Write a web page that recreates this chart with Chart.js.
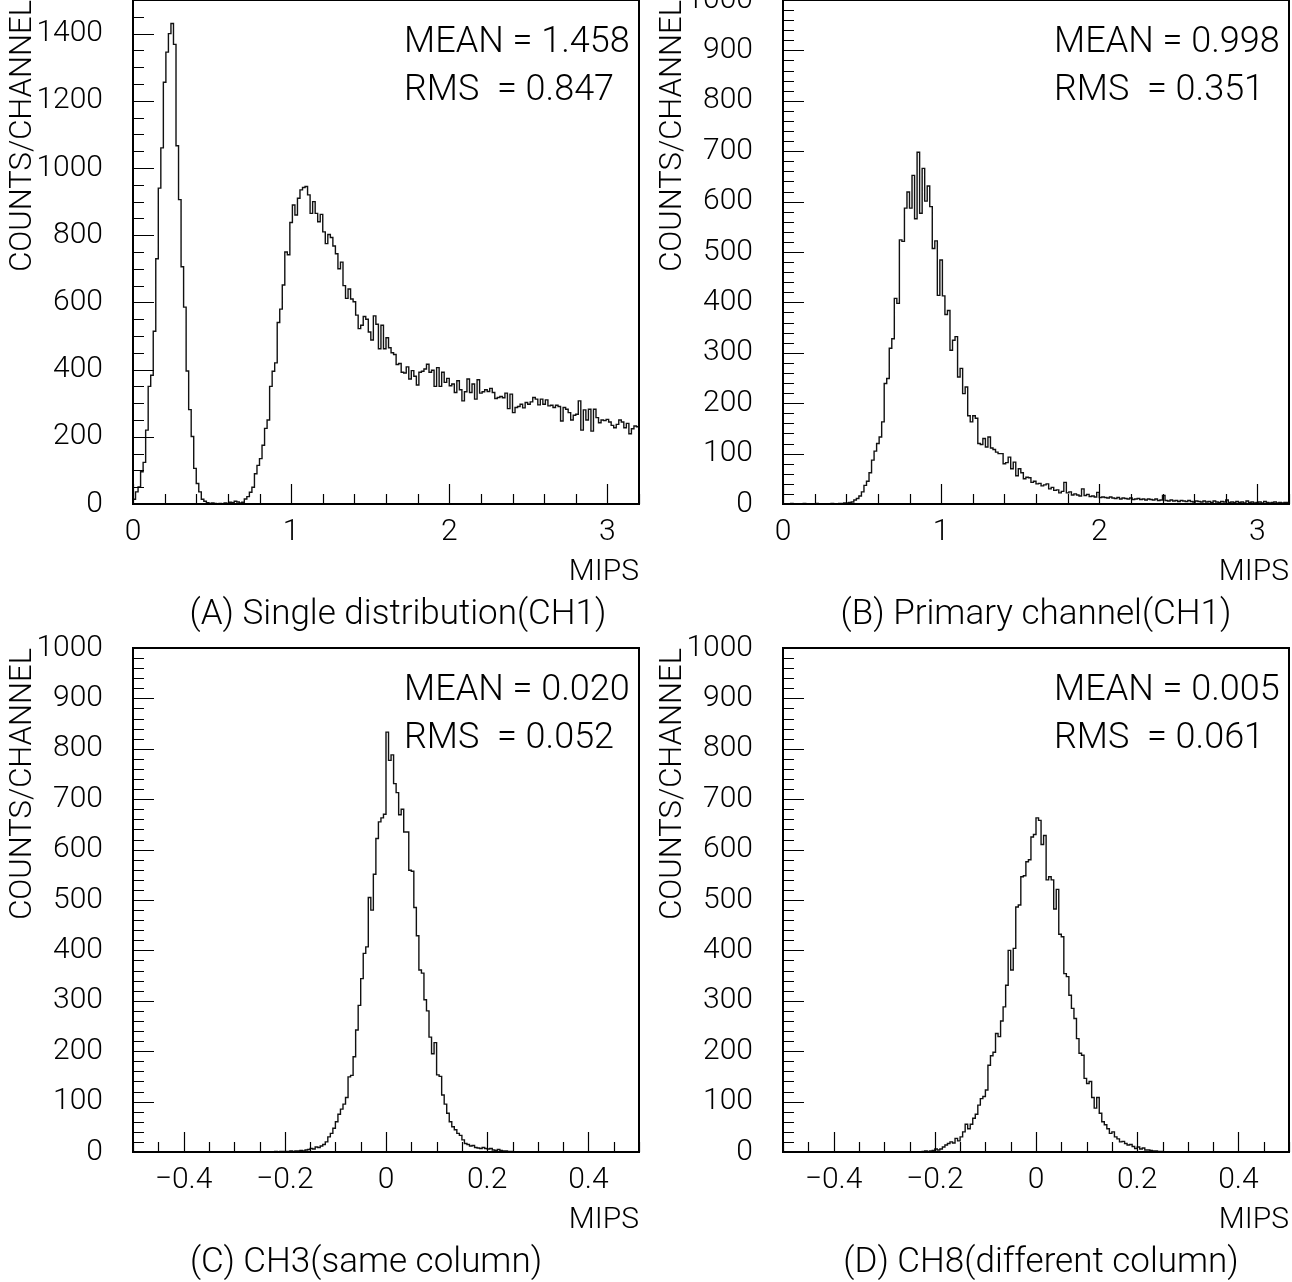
<!DOCTYPE html>
<html>
<head>
<meta charset="utf-8">
<script src="https://cdn.jsdelivr.net/npm/chart.js"></script>
<style>
  body{margin:0;width:1292px;height:1282px;overflow:hidden;background:#fff;position:relative}
  canvas{position:absolute}
</style>
</head>
<body>
<canvas id="histA" width="651" height="686" style="left:0;top:-50px"></canvas>
<canvas id="histB" width="651" height="686" style="left:650px;top:-50px"></canvas>
<canvas id="histC" width="651" height="686" style="left:0;top:598px"></canvas>
<canvas id="histD" width="651" height="686" style="left:650px;top:598px"></canvas>
<script>
/* counts per channel, 200 bins each */
const countsA=[
14,36,51,96,124,220,350,383,514,730,
940,1060,1255,1345,1400,1430,1368,1066,906,706,
586,396,281,201,106,61,36,14,8,4,
2,3,2,1,2,1,3,2,5,4,
8,6,3,5,15,22,35,50,90,115,
135,175,225,250,350,395,420,540,580,652,
750,742,838,890,860,910,935,942,945,920,
865,900,865,840,862,810,775,802,793,768,
745,700,720,650,612,640,610,602,562,522,
532,558,550,512,488,560,535,462,532,462,
495,465,450,445,415,418,392,390,408,372,
397,380,354,392,395,402,416,392,398,350,
406,350,392,362,374,352,357,332,367,340,
307,334,372,332,357,312,370,330,334,340,
335,344,332,314,317,320,316,330,284,327,
272,287,290,297,286,302,297,304,317,312,
295,312,297,310,292,294,287,294,290,247,
287,282,272,250,264,267,307,220,280,250,
282,217,282,257,242,250,248,252,244,234,
227,237,250,244,227,240,209,224,232,230]

const countsB=[
0,0,0,1,0,0,0,0,1,0,
0,0,0,1,0,0,0,0,0,1,
0,0,1,1,2,2,3,4,8,11,
16,24,37,45,62,87,105,120,133,163,
239,249,309,328,408,398,524,521,587,619,
587,652,566,698,577,666,601,631,590,507,
522,414,484,413,376,384,305,325,332,252,
269,219,232,175,163,175,170,120,118,130,
113,133,111,108,103,100,100,80,82,93,
70,83,56,70,62,50,53,52,43,45,
40,41,36,38,40,30,33,27,28,22,
25,43,22,24,18,20,18,16,30,17,
19,15,16,14,23,13,14,13,12,14,
12,11,13,10,12,11,10,12,9,10,
11,9,10,8,10,9,8,10,7,8,
17,7,6,8,6,7,5,7,6,5,
7,5,4,6,5,4,6,4,5,3,
6,4,3,5,4,8,3,4,3,5,
3,4,2,6,3,4,2,3,4,2,
5,3,2,3,4,2,3,2,3,3]

const countsC=[
0,0,0,0,0,0,0,0,0,0,
0,0,0,0,0,0,0,0,0,0,
0,0,0,0,0,0,0,0,0,0,
0,0,0,0,0,0,0,0,0,0,
0,0,0,0,0,0,0,0,0,0,
0,0,0,0,0,0,1,0,1,1,
1,1,2,1,2,2,3,2,4,5,
7,6,10,9,12,15,20,30,37,47,
60,75,85,95,108,149,152,189,242,291,
344,394,407,505,480,551,622,655,663,670,
833,777,788,731,713,669,680,635,635,559,
557,485,429,361,355,302,280,228,195,217,
153,150,113,95,77,60,50,44,37,33,
24,17,15,12,13,9,8,7,9,7,
6,7,4,3,5,3,2,2,1,1,
0,0,0,0,0,0,0,0,0,0,
0,0,0,0,0,0,0,0,0,0,
0,0,0,0,0,0,0,0,0,0,
0,0,0,0,0,0,0,0,0,0,
0,0,0,0,0,0,0,0,0,0]

const countsD=[
0,0,0,0,0,0,0,0,0,0,
0,0,0,0,0,0,0,0,0,0,
0,0,0,0,0,0,0,0,0,0,
0,0,0,0,0,0,0,0,0,0,
0,0,0,0,0,0,0,0,0,0,
0,0,0,0,0,1,2,1,2,3,
6,4,6,10,14,17,20,18,27,22,
30,40,55,46,55,67,75,93,106,110,
123,172,191,198,235,229,260,288,331,400,
361,404,486,490,546,548,576,580,625,630,
663,658,610,628,540,546,540,482,521,432,
427,354,348,311,285,265,225,196,192,146,
136,140,108,87,108,77,60,54,46,37,
40,30,26,20,21,17,14,15,11,7,
10,6,8,4,4,3,2,2,1,1,
0,0,0,0,0,0,0,0,0,0,
0,0,0,0,0,0,0,0,0,0,
0,0,0,0,0,0,0,0,0,0,
0,0,0,0,0,0,0,0,0,0,
0,0,0,0,0,0,0,0,0,0]

const captions=['(A) Single distribution(CH1)','(B) Primary channel(CH1)','(C) CH3(same column)','(D) CH8(different column)']
const means=['1.458','0.998','0.020','0.005']
const rmsValues=['0.847','0.351','0.052','0.061']

const fuente='Roboto'
Chart.defaults.font.family=fuente
Chart.defaults.font.weight=300
Chart.defaults.color='#000'

/* bin centres plus both outer edges so the steps close on the frame */
function puntos(min,max,counts){
    const w=(max-min)/counts.length
    const arr=[{x:min,y:counts[0]}]
    counts.forEach((c,i)=>arr.push({x:min+(i+0.5)*w,y:c}))
    arr.push({x:max,y:counts[counts.length-1]})
    return arr
}

function multiplo(v,m){
    const q=v/m
    return Math.abs(q-Math.round(q))<1e-6
}

function etiqueta(v){
    if(Math.abs(v)<1e-9) return '0'
    const s=String(Math.round(v*1000)/1000)
    return s.replace('-','\u2212')
}

/* frame, inward ticks and the text boxes */
const marco={
    id:'marco',
    afterDraw(chart,args,opts){
        const ctx=chart.ctx
        const a=chart.chartArea
        const sx=chart.scales.x
        const sy=chart.scales.y
        ctx.save()
        ctx.strokeStyle='#000'
        ctx.lineWidth=1.2
        ctx.beginPath()
        sx.ticks.forEach(t=>{
            const p=Math.round(sx.getPixelForValue(t.value))+0.5
            const l=t.label!==''?20:10
            ctx.moveTo(p,a.bottom)
            ctx.lineTo(p,a.bottom-l)
        })
        sy.ticks.forEach(t=>{
            const p=Math.round(sy.getPixelForValue(t.value))+0.5
            const l=t.label!==''?21:11
            ctx.moveTo(a.left,p)
            ctx.lineTo(a.left+l,p)
        })
        ctx.stroke()
        ctx.lineWidth=2
        ctx.strokeRect(a.left,a.top,a.right-a.left,a.bottom-a.top)

        ctx.fillStyle='#000'
        ctx.textBaseline='middle'
        ctx.textAlign='left'
        ctx.font='300 36px '+fuente
        ctx.fillText('MEAN = '+opts.mean,a.left+271,a.top+43)
        ctx.fillText('RMS  = '+opts.rms,a.left+271,a.top+91)
        ctx.textAlign='center'
        ctx.font='300 35px '+fuente
        ctx.fillText(opts.caption,a.left+opts.captionX,a.bottom+111)
        ctx.restore()
    }
}

function grafico(id,counts,p){
    const ctx=document.getElementById(id)
    new Chart(ctx,{
        type:'line',
        data:{
            datasets:[{
                data:puntos(p.xmin,p.xmax,counts),
                stepped:'middle',
                borderColor:'#111',
                borderWidth:1.4,
                pointRadius:0,
                fill:false
            }]
        },
        options:{
            responsive:false,
            animation:false,
            events:[],
            layout:{padding:{left:0,right:12,top:50,bottom:40}},
            plugins:{
                legend:{display:false},
                tooltip:{enabled:false},
                marco:{mean:p.mean,rms:p.rms,caption:p.caption,captionX:p.captionX}
            },
            scales:{
                x:{
                    type:'linear',
                    min:p.xmin,
                    max:p.xmax,
                    grid:{display:false,drawTicks:false},
                    border:{display:false},
                    ticks:{
                        stepSize:p.xMinor,
                        autoSkip:false,
                        maxRotation:0,
                        padding:10,
                        font:{size:30},
                        callback:v=>multiplo(v,p.xMajor)?etiqueta(v):''
                    },
                    title:{display:true,text:'MIPS',align:'end',font:{size:30},padding:{top:0,bottom:6}},
                    afterFit:s=>{s.height=92}
                },
                y:{
                    min:0,
                    max:p.ymax,
                    grid:{display:false,drawTicks:false},
                    border:{display:false},
                    ticks:{
                        stepSize:p.yMinor,
                        autoSkip:false,
                        padding:30,
                        font:{size:30},
                        callback:v=>multiplo(v,p.yMajor)?String(Math.round(v)):''
                    },
                    title:{display:true,text:'COUNTS/CHANNEL',align:'end',font:{size:31},padding:{top:5,bottom:0}},
                    afterFit:s=>{s.width=133}
                }
            }
        },
        plugins:[marco]
    })
}

grafico('histA',countsA,{xmin:0,xmax:3.2,xMinor:0.2,xMajor:1,ymax:1500,yMinor:50,yMajor:200,
    mean:means[0],rms:rmsValues[0],caption:captions[0],captionX:265})
grafico('histB',countsB,{xmin:0,xmax:3.2,xMinor:0.2,xMajor:1,ymax:1000,yMinor:20,yMajor:100,
    mean:means[1],rms:rmsValues[1],caption:captions[1],captionX:253})
grafico('histC',countsC,{xmin:-0.5,xmax:0.5,xMinor:0.05,xMajor:0.2,ymax:1000,yMinor:20,yMajor:100,
    mean:means[2],rms:rmsValues[2],caption:captions[2],captionX:233})
grafico('histD',countsD,{xmin:-0.5,xmax:0.5,xMinor:0.05,xMajor:0.2,ymax:1000,yMinor:20,yMajor:100,
    mean:means[3],rms:rmsValues[3],caption:captions[3],captionX:258})
</script>
</body>
</html>
